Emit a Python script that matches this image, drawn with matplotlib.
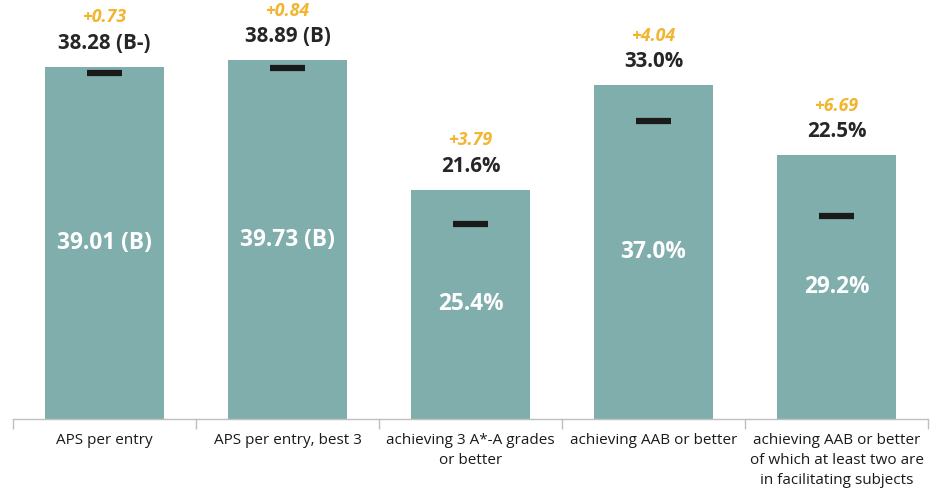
import matplotlib.pyplot as plt
import numpy as np

categories = ["APS per entry", "APS per entry, best 3",
              "achieving 3 A*-A grades\nor better", "achieving AAB or better",
              "achieving AAB or better\nof which at least two are\nin facilitating subjects"]
current = [39.01, 39.73, 25.4, 37.0, 29.2]
previous = [38.28, 38.89, 21.6, 33.0, 22.5]
current_labels = ["39.01 (B)", "39.73 (B)", "25.4%", "37.0%", "29.2%"]
previous_labels = ["38.28 (B-)", "38.89 (B)", "21.6%", "33.0%", "22.5%"]
change_labels = ["+0.73", "+0.84", "+3.79", "+4.04", "+6.69"]

bar_color = "#80aeac"
orange = "#f2b530"
dark = "#262626"

fig = plt.figure(figsize=(9.34, 4.94), dpi=100)
ax = fig.add_axes([13 / 934, 75 / 494, 915 / 934, 419 / 494])

x = np.arange(len(categories))
ax.bar(x, current, width=0.655, color=bar_color, zorder=2)

# previous-year markers
ax.errorbar(x, previous, xerr=0.095, fmt="none", ecolor="#1a1a1a",
            elinewidth=4.5, capsize=0, zorder=3)

val_font = ["Open Sans", "DejaVu Sans"]
for i in range(len(x)):
    ax.annotate(previous_labels[i], (x[i], current[i]), xytext=(0, 17),
                textcoords="offset points", ha="center", va="center",
                fontsize=14.8, fontweight="bold", color=dark, family=val_font)
    ax.annotate(change_labels[i], (x[i], current[i]), xytext=(0, 35.5),
                textcoords="offset points", ha="center", va="center",
                fontsize=12.8, fontweight="bold", style="italic", color=orange,
                family=val_font)
    ax.text(x[i], current[i] / 2, current_labels[i], ha="center", va="center",
            fontsize=16.3, fontweight="bold", color="white", family=val_font)

ax.set_xlim(-0.5, len(x) - 0.5)
ax.set_ylim(0, 46.4)
ax.set_yticks([])
for s in ["top", "right", "left"]:
    ax.spines[s].set_visible(False)
ax.spines["bottom"].set_color("#bfbfbf")
ax.spines["bottom"].set_linewidth(1)

ax.set_xticks(x)
ax.set_xticklabels(categories, fontsize=11, color="#1a1a1a",
                   family=["Open Sans", "DejaVu Sans"], linespacing=1.45)
ax.tick_params(axis="x", which="major", length=0, pad=10)
ax.set_xticks(np.arange(-0.5, len(x)), minor=True)
ax.tick_params(axis="x", which="minor", length=7, color="#bfbfbf", width=1)
for lbl in ax.get_xticklabels():
    lbl.set_verticalalignment("top")

fig.savefig("out.png", dpi=100)
